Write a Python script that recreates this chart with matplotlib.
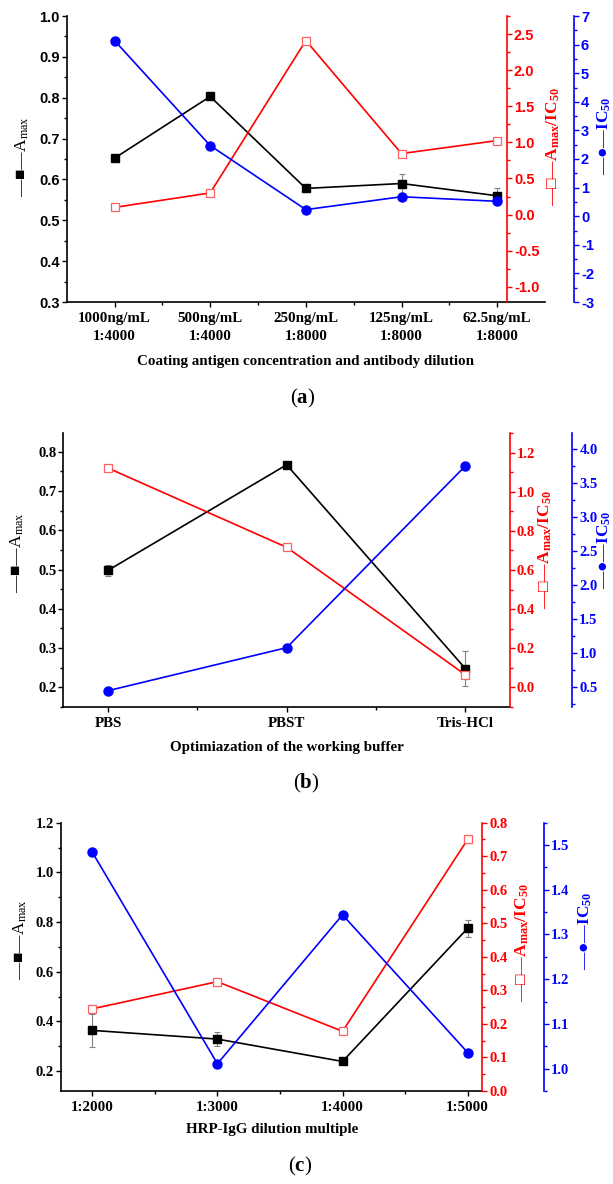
import matplotlib
matplotlib.use('Agg')
import matplotlib.pyplot as plt
from matplotlib.ticker import MultipleLocator, FixedLocator

plt.rcParams['mathtext.fontset'] = 'custom'
plt.rcParams['mathtext.rm'] = 'Liberation Serif'
plt.rcParams['mathtext.bf'] = 'Liberation Serif:bold'
plt.rcParams['axes.unicode_minus'] = False

SERIF = ['Liberation Serif', 'DejaVu Sans']
SANS = ['Liberation Sans', 'DejaVu Sans']

# panel (a)
a_labels = ['1000ng/mL\n1:4000', '500ng/mL\n1:4000', '250ng/mL\n1:8000', '125ng/mL\n1:8000', '62.5ng/mL\n1:8000']
a_amax = [0.652, 0.803, 0.578, 0.590, 0.560]
a_amax_err = [0.004, 0.005, 0.006, 0.024, 0.020]
a_ratio = [0.10, 0.30, 2.41, 0.845, 1.025]
a_ic50 = [6.14, 2.47, 0.23, 0.68, 0.52]

# panel (b)
b_labels = ['PBS', 'PBST', 'Tris-HCl']
b_amax = [0.498, 0.767, 0.248]
b_amax_err = [0.015, 0.004, 0.044]
b_ratio = [1.121, 0.716, 0.065]
b_ic50 = [0.44, 1.075, 3.754]

# panel (c)
c_labels = ['1:2000', '1:3000', '1:4000', '1:5000']
c_amax = [0.364, 0.329, 0.239, 0.775]
c_amax_err = [0.066, 0.027, 0.005, 0.035]
c_ratio = [0.245, 0.326, 0.178, 0.750]
c_ic50 = [1.484, 1.011, 1.344, 1.036]

W, H = 613, 1184
fig = plt.figure(figsize=(W / 100, H / 100), dpi=100)


def fx(x):
    return x / W


def fy(y):
    return 1 - y / H


def style_axis(ax, side, color, step, minor, lim, tickfont, pos=None):
    ax.set_ylim(*lim)
    ax.yaxis.set_major_locator(MultipleLocator(step))
    ax.yaxis.set_minor_locator(MultipleLocator(minor))
    for s in ax.spines.values():
        s.set_visible(False)
    sp = ax.spines[side]
    sp.set_visible(True)
    sp.set_color(color)
    sp.set_linewidth(1.2)
    if pos is not None:
        sp.set_position(('axes', pos))
    ax.tick_params(axis='y', which='both', direction='out', colors=color, width=1.0, pad=1.5)
    ax.tick_params(axis='y', which='major', length=3.5, labelsize=tickfont[1])
    ax.tick_params(axis='y', which='minor', length=2)
    for t in ax.get_yticklabels():
        t.set_family(tickfont[0])
        t.set_fontweight('bold')


def panel(box, labels, amax, err, ratio, ic50, xlim, lims, steps, blue_pos,
          ytickfont, xlabel, xlabel_y, title, title_y, lab_pos):
    left, right, top, bottom = box
    ax = fig.add_axes([fx(left), fy(bottom), fx(right - left), (bottom - top) / H])
    ax_r = ax.twinx()
    ax_b = ax.twinx()
    x = list(range(len(labels)))

    ax.errorbar(x, amax, yerr=err, color='black', ecolor='gray', elinewidth=0.8,
                capsize=2, capthick=0.8, marker='s', ms=5.5, lw=1.2, zorder=3)
    ax_r.plot(x, ratio, color='red', marker='s', ms=6, mfc='white', mec='#ff6060',
              mew=0.9, lw=1.2)
    ax_b.plot(x, ic50, color='blue', marker='o', ms=6.5, lw=1.2)

    ax.set_xlim(*xlim)
    ax.set_xticks(x)
    ax.set_xticklabels(labels, family=SERIF, fontweight='bold', fontsize=10.8)
    ax.xaxis.set_minor_locator(FixedLocator([i + 0.5 for i in x[:-1]]))
    ax.tick_params(axis='x', which='both', direction='out', width=1.0, pad=4)
    ax.tick_params(axis='x', which='major', length=3.5)
    ax.tick_params(axis='x', which='minor', length=2.5)
    style_axis(ax, 'left', 'black', steps[0][0], steps[0][1], lims[0], ytickfont)
    ax.spines['bottom'].set_visible(True)
    ax.spines['bottom'].set_linewidth(1.2)
    style_axis(ax_r, 'right', 'red', steps[1][0], steps[1][1], lims[1], ytickfont, blue_pos[0])
    style_axis(ax_b, 'right', 'blue', steps[2][0], steps[2][1], lims[2], ytickfont, blue_pos[1])

    for t in ax.get_xticklabels():
        t.set_linespacing(1.5)

    fig.text(fx((left + right) / 2), fy(xlabel_y), xlabel, family=SERIF, fontweight='bold',
             fontsize=10.8, ha='center', va='center')
    fig.text(fx(title[1]), fy(title_y), title[0], family=SERIF, fontsize=15,
             ha='center', va='center')

    (lx, ly), (rx, ry), (bx, by) = lab_pos
    fig.text(fx(lx), fy(ly), '—■—A$\\mathregular{_{max}}$', family=SERIF, fontsize=12.5,
             rotation=90, ha='center', va='center')
    fig.text(fx(rx), fy(ry), '—□—A$\\mathregular{_{max}}$/IC$\\mathregular{_{50}}$', family=SERIF,
             fontsize=12.5, fontweight='bold', color='red', rotation=90, ha='center', va='center')
    fig.text(fx(bx), fy(by), '—●—IC$\\mathregular{_{50}}$', family=SERIF, fontsize=12.5,
             fontweight='bold', color='blue', rotation=90, ha='center', va='center')
    return ax


panel((66.7, 545, 16, 302), a_labels, a_amax, a_amax_err, a_ratio, a_ic50,
      (-0.5, 4.5), [(0.3, 1.0), (-1.21, 2.75), (-3, 7)],
      [(0.1, 0.05), (0.5, 0.25), (1, 0.5)], (0.9205, 1.0607),
      (SANS, 10.5), 'Coating antigen concentration and antibody dilution', 361,
      ('($\\mathbf{a}$)', 303), 398,
      [(22, 157), (553, 147), (604, 136)])

panel((63.3, 510, 433, 707), b_labels, b_amax, b_amax_err, b_ratio, b_ic50,
      (-0.25, 2.25), [(0.15, 0.848), (-0.1, 1.3), (0.2, 4.24)],
      [(0.1, 0.05), (0.2, 0.1), (0.5, 0.25)], (1.0, 1.1395),
      (SERIF, 10.5), 'Optimiazation of the working buffer', 747,
      ('($\\mathbf{b}$)', 306), 783,
      [(17, 553), (545, 550), (604, 550)])

panel((61, 482.3, 822.7, 1091), c_labels, c_amax, c_amax_err, c_ratio, c_ic50,
      (-0.25, 3.117), [(0.12, 1.2), (0.0, 0.8), (0.95, 1.55)],
      [(0.2, 0.1), (0.1, 0.05), (0.1, 0.05)], (1.0, 1.147),
      (SERIF, 10.5), 'HRP-IgG dilution multiple', 1130,
      ('($\\mathbf{c}$)', 300), 1166,
      [(20, 940), (522, 943), (585, 931)])

fig.savefig('out.png', dpi=100)
